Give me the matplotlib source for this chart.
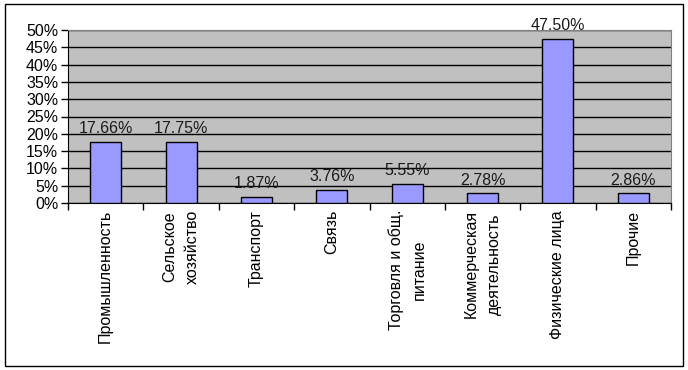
import matplotlib
matplotlib.use("Agg")
import matplotlib.pyplot as plt
from matplotlib.patches import Rectangle
import numpy as np

categories = ["Промышленность", "Сельское\nхозяйство", "Транспорт", "Связь",
              "Торговля и общ.\nпитание", "Коммерческая\nдеятельность",
              "Физические лица", "Прочие"]
values = [17.66, 17.75, 1.87, 3.76, 5.55, 2.78, 47.50, 2.86]
yticks = [0, 5, 10, 15, 20, 25, 30, 35, 40, 45, 50]

plt.rcParams['font.family'] = ['Liberation Sans', 'DejaVu Sans']

W, H = 688, 370
fig = plt.figure(figsize=(W / 100, H / 100), dpi=100)
fig.patch.set_facecolor("white")

# outer border
fig.patches.append(Rectangle((5 / W, 4 / H), (683 - 5) / W, (366 - 4) / H,
                             transform=fig.transFigure, fill=False,
                             edgecolor="black", linewidth=1.0))

ax = fig.add_axes([68 / W, (H - 203) / H, (671 - 68) / W, (203 - 30) / H])
ax.set_facecolor("#C0C0C0")

x = np.arange(len(categories))
ax.bar(x, values, width=0.41, color="#9999FF", edgecolor="black",
       linewidth=1.0, zorder=3)

for xi, v in zip(x, values):
    ax.annotate(f"{v:.2f}%", (xi, v), xytext=(0, 4), textcoords="offset points",
                ha="center", va="bottom", fontsize=11.5, color="#1a1a1a", zorder=4)

ax.set_xlim(-0.5, len(categories) - 0.5)
ax.set_ylim(0, 50)
ax.set_yticks(yticks)
ax.set_yticklabels([f"{t}%" for t in yticks], fontsize=11.5)
ax.yaxis.grid(True, color="black", linewidth=1.0, zorder=1)
ax.set_axisbelow(True)

ax.set_xticks(x)
ax.set_xticklabels(categories, rotation=90, fontsize=11.5, ha="center", va="top",
                   multialignment="center", linespacing=1.65)
ax.set_xticks(np.arange(len(categories) + 1) - 0.5, minor=True)
ax.tick_params(axis="x", which="major", length=0, pad=5)
ax.tick_params(axis="x", which="minor", length=5, width=1, direction="out")
ax.tick_params(axis="y", length=5, width=1, direction="out", pad=2)

for s in ["top", "right"]:
    ax.spines[s].set_color("#808080")
for s in ["left", "bottom"]:
    ax.spines[s].set_color("black")

fig.savefig("out.png", dpi=100, facecolor="white")
